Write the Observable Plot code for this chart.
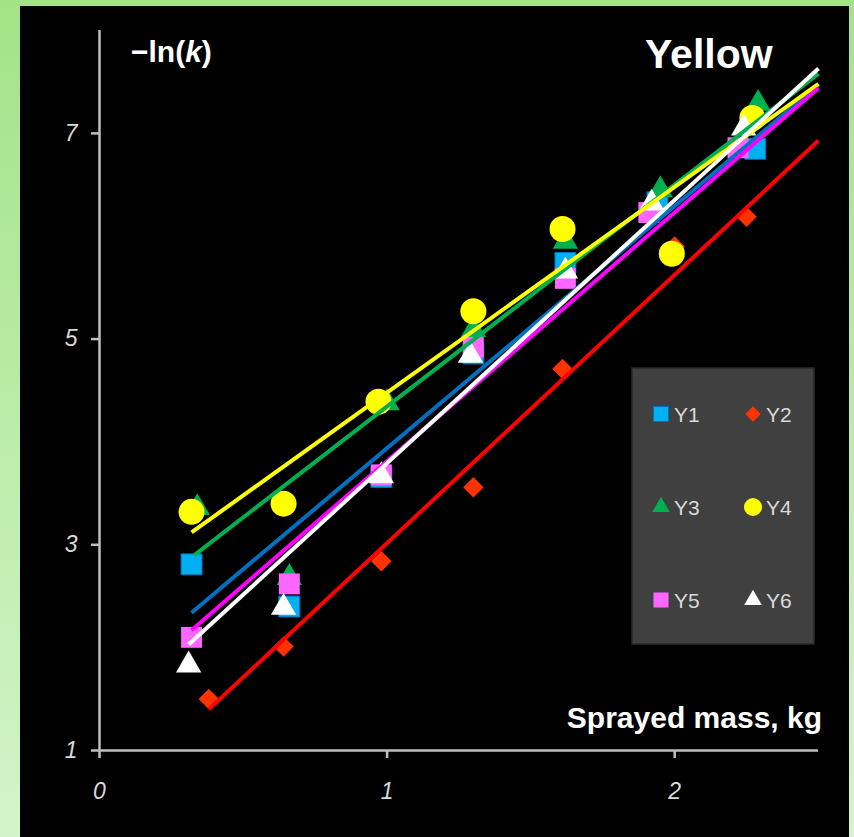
<!DOCTYPE html>
<html><head><meta charset="utf-8">
<script src="https://cdn.jsdelivr.net/npm/d3@7"></script>
<script src="https://cdn.jsdelivr.net/npm/@observablehq/plot@0.6"></script>
<style>
html,body{margin:0;padding:0;background:#fff}
#wrap{position:relative;width:854px;height:837px;background:linear-gradient(#a3e387,#d3f4ca);overflow:hidden}
#wrap svg{position:absolute;left:20px;top:6px}
</style></head>
<body><div id="wrap"></div>
<script>
// ---- data ----
const seriesNames = ["Y1","Y2","Y3","Y4","Y5","Y6"];
const xY1 = [0.32,0.66,0.98,1.30,1.62,1.94,2.28];
const vY1 = [2.81,2.40,3.66,4.86,5.74,6.33,6.85];
const xY2 = [0.38,0.64,0.98,1.30,1.61,2.00,2.25];
const vY2 = [1.50,2.01,2.84,3.56,4.71,5.90,6.19];
const xY3 = [0.34,0.66,1.00,1.30,1.62,1.95,2.29];
const vY3 = [3.36,2.68,4.38,5.09,5.95,6.45,7.29];
const xY4 = [0.32,0.64,0.97,1.30,1.61,1.99,2.27];
const vY4 = [3.32,3.40,4.39,5.27,6.07,5.83,7.15];
const xY5 = [0.32,0.66,0.98,1.30,1.62,1.91,2.22];
const vY5 = [2.10,2.62,3.68,4.92,5.59,6.23,6.86];
const xY6 = [0.31,0.64,0.98,1.29,1.62,1.92,2.24];
const vY6 = [1.83,2.39,3.67,4.84,5.66,6.32,7.05];
// trendlines: start x/y, end x/y
const trendX0 = [0.32,0.38,0.33,0.32,0.32,0.31];
const trendY0 = [2.34,1.40,2.90,3.12,2.17,2.03];
const trendX1 = [2.5,2.5,2.5,2.5,2.5,2.5];
const trendY1 = [7.47,6.93,7.58,7.48,7.44,7.63];
const xTicks = [0,1,2];
const yTicks = [1,3,5,7];
const titleText = "Yellow";
const xLabel = "Sprayed mass, kg";

// ---- styles ----
const markerColors = ["#00b0f0","#ff3300","#00b050","#ffff00","#ff66ff","#ffffff"];
const markerStrokes = ["#0070c0","none","none","none","none","none"];
const lineColors = ["#0070c0","#ff0000","#00b050","#ffff00","#ff00ff","#ffffff"];
const markerSymbols = ["square","diamond2","triangle","circle","square","triangle"];
const markerR = [11.8,9.2,9.4,13,11.8,9.4];

const xs = [xY1,xY2,xY3,xY4,xY5,xY6];
const vs = [vY1,vY2,vY3,vY4,vY5,vY6];
const series = seriesNames.map((name,i)=>xs[i].map((x,j)=>({name,x,y:vs[i][j]})));
const trends = seriesNames.map((name,i)=>({name,x1:trendX0[i],y1:trendY0[i],x2:trendX1[i],y2:trendY1[i]}));

const axisColor = "#bfbfbf";
const marks = [
  Plot.ruleX([0], {y1: 1, y2: 8, stroke: axisColor, strokeWidth: 2.5}),
  Plot.ruleY([1], {x1: 0, x2: 2.5, stroke: axisColor, strokeWidth: 2.5}),
  Plot.axisY(yTicks, {tickSize: 8, tickPadding: 14, stroke: axisColor, strokeWidth: 2.5, fill: "#d9d9d9",
    fontSize: 23, fontStyle: "italic", label: null, tickFormat: d => String(d)}),
  Plot.axisX(xTicks, {tickSize: 8, tickPadding: 24, stroke: axisColor, strokeWidth: 2.5, fill: "#d9d9d9",
    fontSize: 23, fontStyle: "italic", label: null, tickFormat: d => String(d)})
];
series.forEach((data,i)=>{
  marks.push(Plot.dot(data, {x:"x", y:"y", symbol: markerSymbols[i], r: markerR[i],
    fill: markerColors[i], stroke: markerStrokes[i], strokeWidth: 1}));
});
trends.forEach((t,i)=>{
  marks.push(Plot.link([t], {x1:"x1", y1:"y1", x2:"x2", y2:"y2", stroke: lineColors[i], strokeWidth: 4}));
});

const svg = Plot.plot({
  width: 829, height: 831,
  marginLeft: 79, marginRight: 31, marginTop: 24, marginBottom: 87,
  x: {domain: [0, 2.5]},
  y: {domain: [1, 8]},
  style: {background: "black", color: "#d9d9d9", fontFamily: "Liberation Sans, Arial, sans-serif"},
  marks
});
document.getElementById("wrap").appendChild(svg);

const s = d3.select(svg);
const font = "Liberation Sans, Arial, sans-serif";
const yl = s.append("text").attr("x",111).attr("y",56).attr("fill","#ffffff").attr("text-anchor","start")
  .attr("font-family",font).attr("font-weight","bold").attr("font-size",30);
yl.append("tspan").text("−ln(");
yl.append("tspan").attr("font-style","italic").text("k");
yl.append("tspan").text(")");
s.append("text").attr("x",625).attr("y",62).attr("fill","#ffffff").attr("text-anchor","start")
  .attr("font-family",font).attr("font-weight","bold").attr("font-size",41).text(titleText);
s.append("text").attr("x",802).attr("y",722).attr("text-anchor","end").attr("fill","#ffffff")
  .attr("font-family",font).attr("font-weight","bold").attr("font-size",30).text(xLabel);

// legend
const lg = s.append("g");
lg.append("rect").attr("x",612).attr("y",362).attr("width",182).attr("height",276)
  .attr("fill","#404040").attr("stroke","#2a2a2a").attr("stroke-width",1.5);
const dia2 = d3.symbolDiamond2 || {draw(c,size){const r=Math.sqrt(size/2);c.moveTo(0,-r);c.lineTo(r,0);c.lineTo(0,r);c.lineTo(-r,0);c.closePath();}};
const legTypes = {square:[d3.symbolSquare,225], diamond2:[dia2,150], triangle:[d3.symbolTriangle,135], circle:[d3.symbolCircle,254]};
seriesNames.forEach((name,i)=>{
  const col = i % 2, row = Math.floor(i/2);
  const cx = col ? 733 : 641, cy = 408 + row*93;
  const [type,size] = legTypes[markerSymbols[i]];
  lg.append("path").attr("d", d3.symbol().type(type).size(size)())
    .attr("transform",`translate(${cx},${cy})`).attr("fill",markerColors[i])
    .attr("stroke", markerStrokes[i]).attr("stroke-width",1);
  lg.append("text").attr("x", cx+13).attr("y", cy+7.5).attr("fill","#d9d9d9").attr("text-anchor","start")
    .attr("font-family",font).attr("font-size",21).text(name);
});
</script>
</body></html>
